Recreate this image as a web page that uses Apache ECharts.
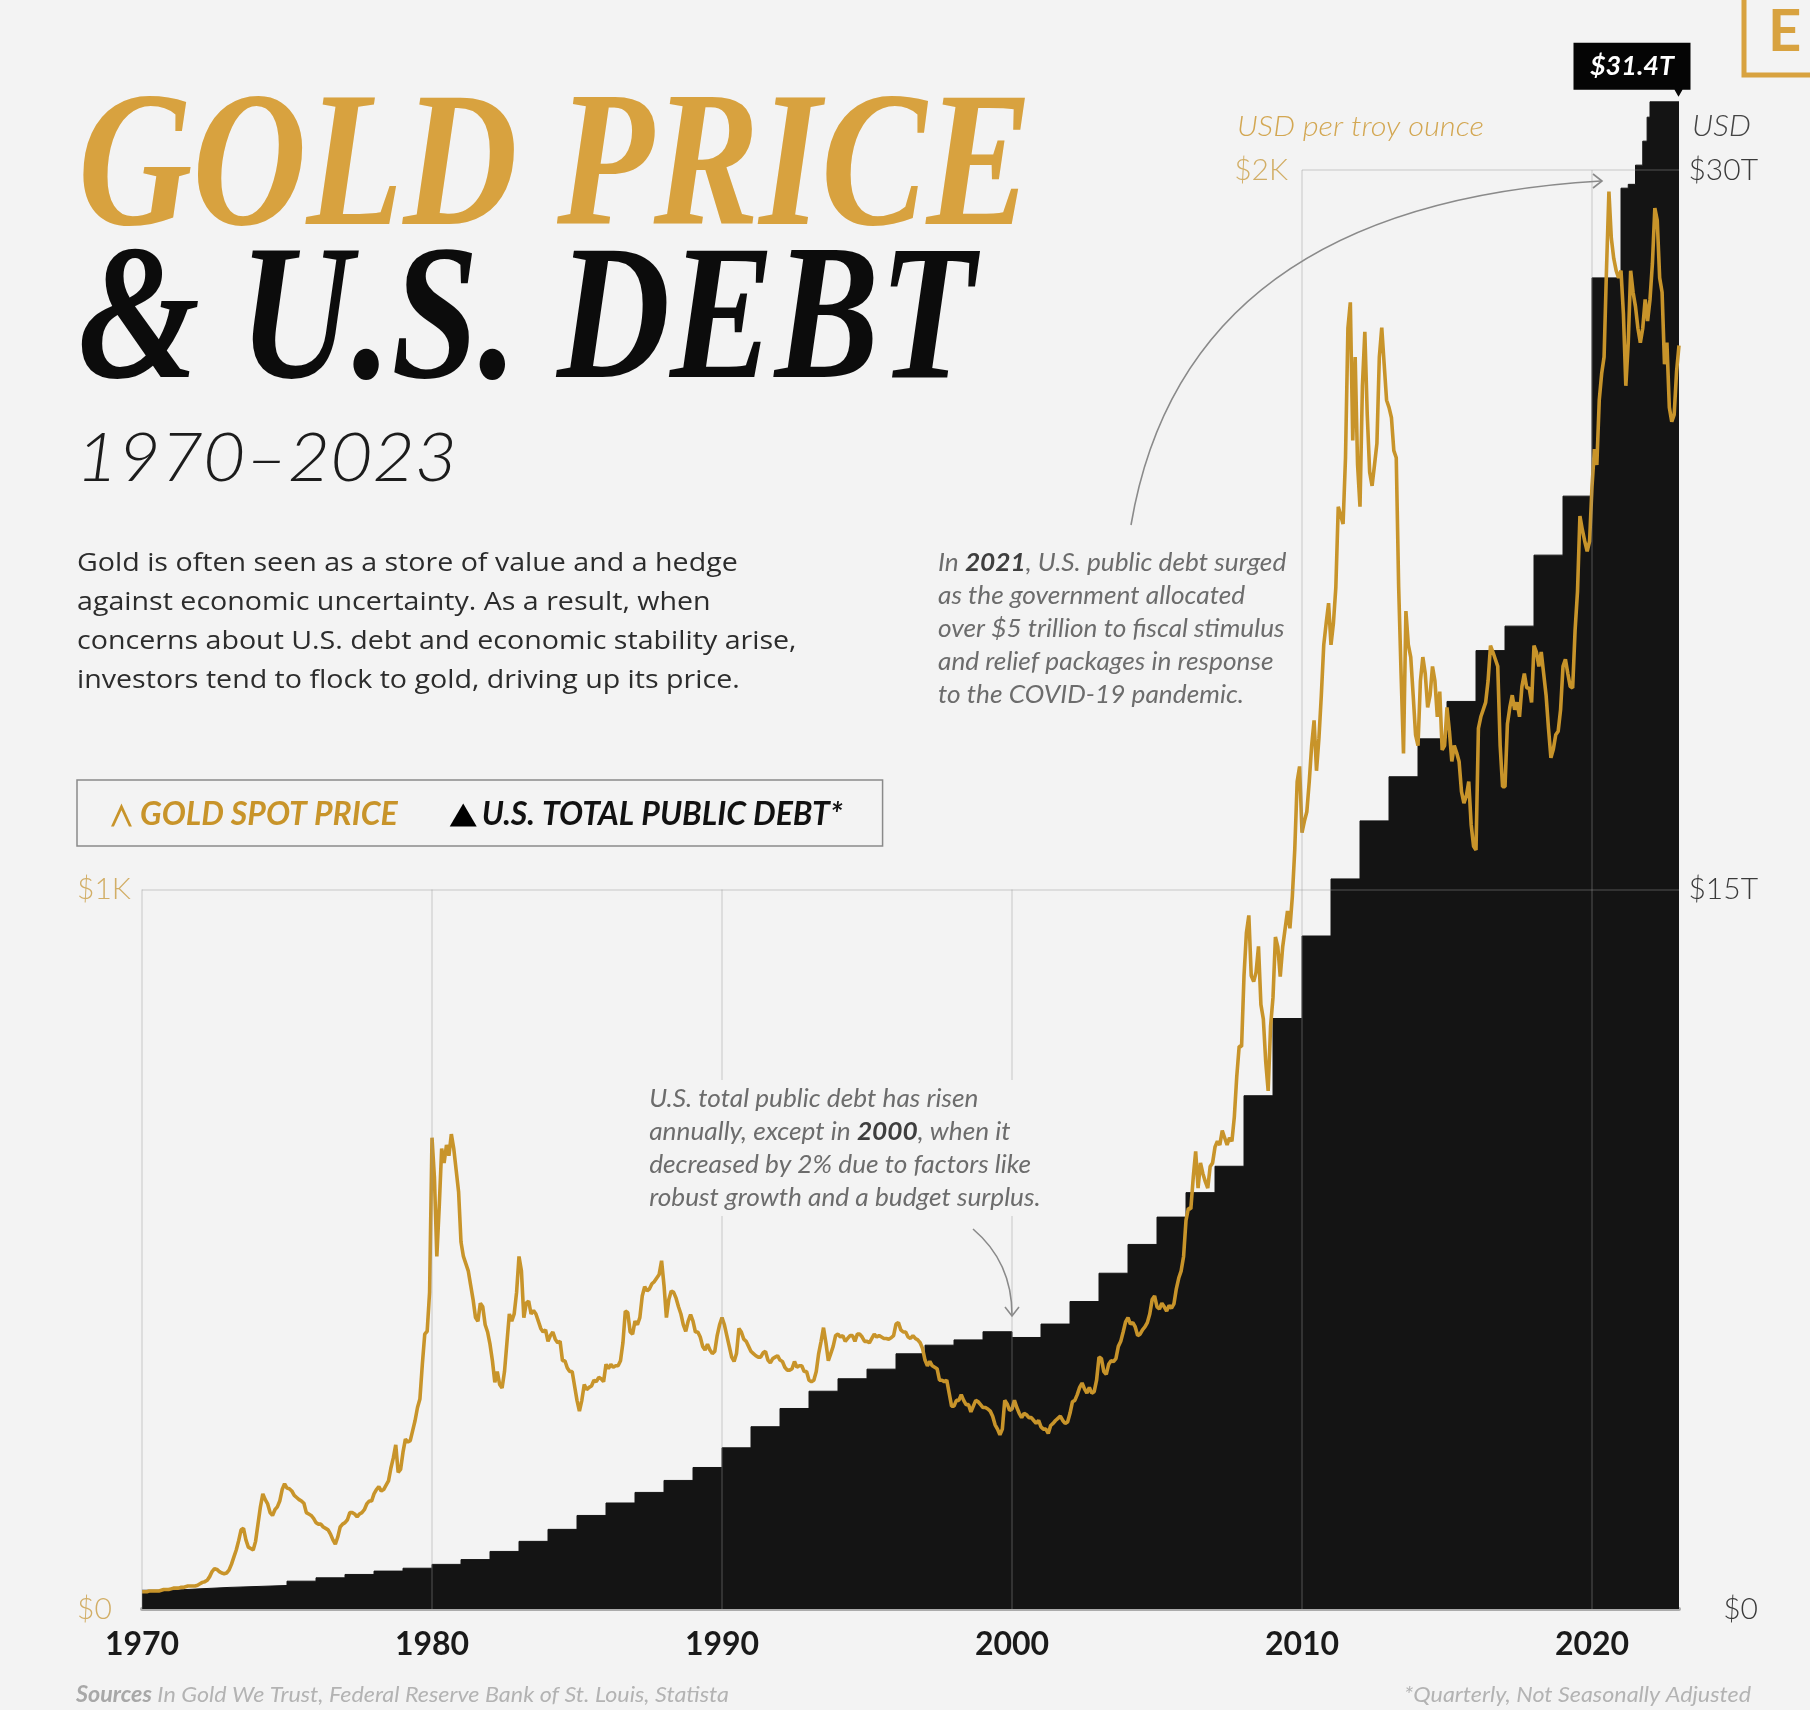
<!DOCTYPE html>
<html><head><meta charset="utf-8">
<script src="https://cdn.jsdelivr.net/npm/echarts/dist/echarts.min.js"></script>
<style>html,body{margin:0;padding:0;background:#f3f3f3;}#c{width:1810px;height:1710px;}</style>
</head><body><div id="c"></div>
<script>
// ---- DATA ----
const xTickYears = [1970, 1980, 1990, 2000, 2010, 2020];
const lowGridYears = [1970, 1980, 1990, 2000];
const highGridYears = [2010, 2020];
const goldTickLabels = {0: '$0', 1000: '$1K', 2000: '$2K'};
const debtTickLabels = {0: '$0', 15: '$15T', 30: '$30T'};

const debtYears = [1970,1971,1972,1973,1974,1975,1976,1977,1978,1979,
  1980,1981,1982,1983,1984,1985,1986,1987,1988,1989,
  1990,1991,1992,1993,1994,1995,1996,1997,1998,1999,
  2000,2001,2002,2003,2004,2005,2006,2007,2008,2009,
  2010,2011,2012,2013,2014,2015,2016,2017,2018,2019,
  2020,2021,2021.25,2021.5,2021.75,2021.9,2022,2023];
const debtTrillions = [0.39,0.42,0.45,0.47,0.49,0.58,0.65,0.72,0.79,0.85,
  0.93,1.03,1.20,1.41,1.66,1.95,2.21,2.43,2.68,2.95,
  3.36,3.80,4.18,4.54,4.80,5.00,5.32,5.50,5.61,5.78,
  5.66,5.94,6.41,7.00,7.60,8.17,8.68,9.23,10.70,12.31,
  14.03,15.22,16.43,17.35,18.14,18.92,19.98,20.49,21.97,23.20,
  27.75,29.62,29.70,30.10,30.60,31.10,31.42,31.42];

// monthly gold spot (USD/oz), starting Jan of the first year of each block
const gold1970s = [
  24,24,24,25,25,25,25,25,26,27,27,27,
  28,29,29,29,30,30,31,32,32,32,32,33,
  35,37,38,40,45,52,56,55,52,50,49,50,
  54,62,72,82,95,110,112,96,86,84,82,94,
  118,142,160,152,146,134,130,138,142,150,166,174,
  168,167,164,158,155,152,150,147,134,132,130,126,
  120,118,118,114,112,110,104,96,90,100,114,118,
  120,124,134,134,132,128,132,134,138,146,150,150,
  160,166,170,164,166,172,178,196,210,228,190,194,
  218,236,232,234,248,262,280,292,340,382,386,440];
const gold1980s = [
  655,600,490,560,640,620,645,630,660,640,610,580,
  510,490,480,470,450,430,405,400,425,420,395,385,
  368,345,315,330,312,307,330,370,410,400,410,440,
  490,470,405,425,428,410,415,410,400,390,385,388,
  372,380,385,375,370,372,345,345,335,330,330,310,
  290,275,290,312,305,308,310,318,316,322,320,316,
  340,334,340,336,338,338,345,370,414,412,385,382,
  400,395,405,435,448,442,445,452,455,460,465,484,
  450,405,430,442,440,432,420,410,395,386,400,409,
  400,385,385,378,365,360,368,360,355,358,380,395];
const gold1990s = [
  405,395,380,365,350,344,355,390,385,375,372,365,
  358,355,352,350,350,356,358,346,342,348,350,352,
  346,344,336,332,332,334,344,336,338,338,330,330,
  318,316,318,330,355,372,391,370,345,355,365,380,
  382,378,380,372,376,380,380,372,382,382,378,372,
  372,370,376,382,378,380,378,376,376,375,377,380,
  396,398,388,385,385,378,376,380,376,374,370,362,
  346,338,344,338,336,334,318,318,316,318,300,282,
  282,290,290,298,290,284,284,274,282,290,288,284,
  280,280,278,275,268,256,250,242,250,290,285,276];
const gold2000s = [
  278,290,280,272,266,272,270,266,266,262,258,262,
  253,250,250,244,255,258,262,265,268,262,258,260,
  272,288,290,298,308,314,306,300,308,300,302,318,
  350,348,330,326,340,345,344,348,365,372,385,399,
  405,396,398,392,380,382,388,392,398,410,430,435,
  420,417,425,420,414,422,418,424,445,460,470,490,
  540,557,556,600,636,585,620,605,594,585,615,620,
  642,650,645,665,655,645,655,650,684,740,782,782,
  880,940,964,880,872,885,921,840,820,760,720,810,
  850,934,920,879,920,945,970,946,990,1055,1150,1171];
const gold2010s = [
  1079,1095,1108,1150,1200,1235,1165,1210,1270,1340,1370,1398,
  1340,1370,1420,1532,1520,1508,1600,1780,1816,1624,1740,1590,
  1532,1700,1775,1660,1580,1561,1590,1620,1740,1781,1730,1680,
  1670,1656,1610,1600,1420,1300,1189,1387,1340,1323,1270,1215,
  1200,1290,1323,1300,1253,1270,1310,1290,1240,1275,1194,1200,
  1253,1220,1178,1200,1190,1178,1136,1120,1130,1150,1090,1060,
  1055,1224,1240,1250,1260,1290,1339,1330,1320,1310,1200,1143,
  1143,1230,1253,1270,1250,1260,1240,1282,1300,1280,1280,1260,
  1339,1330,1310,1330,1300,1270,1224,1183,1195,1215,1220,1250,
  1310,1320,1300,1282,1280,1360,1414,1519,1500,1484,1470,1484];
const gold2020s = [
  1560,1612,1590,1680,1717,1740,1862,1970,1905,1877,1860,1850,
  1860,1800,1700,1760,1860,1830,1810,1780,1760,1780,1820,1790,
  1820,1870,1947,1930,1850,1830,1730,1760,1670,1650,1660,1720,
  1756];
const goldStartYear = 1970;

// ---- BUILD ----
const GOLD = '#C8942A', TITLE_GOLD = '#D8A23F', LABEL_GOLD = '#D2AE66';
const goldAll = [].concat(gold1970s, gold1980s, gold1990s, gold2000s, gold2010s, gold2020s);
const goldData = goldAll.map((v, i) => [goldStartYear + i / 12, v]);
const debtData = debtYears.map((y, i) => [y, debtTrillions[i]]);
const lastDebt = debtData[debtData.length - 1];

const gridLineData = [
  [{coord: [xTickYears[0], 1000]}, {coord: [2023, 1000]}],
  [{coord: [highGridYears[0], 2000]}, {coord: [2023, 2000]}]
].concat(lowGridYears.map(y => [{coord: [y, 0]}, {coord: [y, 1000]}]))
 .concat(highGridYears.map(y => [{coord: [y, 0]}, {coord: [y, 2000]}]));

const chart = echarts.init(document.getElementById('c'), null, {renderer: 'canvas'});
const option = {
  backgroundColor: '#f3f3f3',
  animation: false,
  grid: {left: 142, right: 131, top: 98, bottom: 101, outerBoundsMode: 'none', containLabel: false},
  legend: {
    left: 77, top: 780, orient: 'horizontal', selectedMode: false,
    borderColor: '#8a8a8a', borderWidth: 1.5, borderRadius: 0,
    padding: [19, 40, 15, 34], itemWidth: 27, itemHeight: 23, itemGap: 52, itemTextGap: 15,
    textStyle: {fontFamily: 'Lato', fontSize: 32, fontStyle: 'italic', fontWeight: 'bold', lineHeight: 32},
    data: [
      {name: 'GOLD SPOT PRICE', icon: 'path://M0,22L10,0L20,22L17.2,22L10,6.5L2.8,22Z',
       itemStyle: {color: GOLD, borderWidth: 0}, textStyle: {color: GOLD}},
      {name: 'U.S. TOTAL PUBLIC DEBT*', icon: 'triangle',
       itemStyle: {color: '#000', borderWidth: 0}, textStyle: {color: '#111'}}
    ]
  },
  xAxis: {
    type: 'value', min: 1970, max: 2023, interval: 10, offset: 4,
    axisLine: {show: true, lineStyle: {color: '#ababab', width: 4}},
    axisTick: {show: false}, splitLine: {show: false},
    axisLabel: {margin: 16, fontFamily: 'Lato', fontWeight: 'bold', fontSize: 32, color: '#1a1a1a',
      formatter: v => xTickYears.indexOf(v) >= 0 ? String(v) : ''}
  },
  yAxis: [
    {type: 'value', position: 'left', min: 0, max: 2100, interval: 1000,
     axisLine: {show: false}, axisTick: {show: false}, splitLine: {show: false},
     axisLabel: {align: 'left', margin: 65, fontFamily: 'Lato', fontWeight: 300, fontSize: 30, color: LABEL_GOLD,
       formatter: v => (v === 2000 ? '' : (goldTickLabels[v] || ''))}},
    {type: 'value', position: 'right', min: 0, max: 31.5, interval: 15,
     axisLine: {show: false}, axisTick: {show: false}, splitLine: {show: false},
     axisLabel: {align: 'right', margin: 79, fontFamily: 'Lato', fontWeight: 300, fontSize: 30, color: '#3a3a3a',
       formatter: v => debtTickLabels[v] || ''}}
  ],
  series: [
    {name: 'U.S. TOTAL PUBLIC DEBT*', type: 'line', yAxisIndex: 1, step: 'end', z: 1,
     data: debtData, symbol: 'none', color: '#141414',
     lineStyle: {color: '#141414', width: 1}, areaStyle: {color: '#141414', opacity: 1},
     markPoint: {
       symbol: 'path://M0,0H117V47H109L105,54L101,47H0Z', symbolSize: [117, 54], symbolOffset: [-47, -32],
       itemStyle: {color: '#050505'},
       label: {show: true, position: 'inside', offset: [0, -4], color: '#fff', fontFamily: 'Lato',
         fontStyle: 'italic', fontWeight: 'bold', fontSize: 27,
         formatter: p => '$' + p.value.toFixed(1) + 'T'},
       data: [{coord: lastDebt, value: lastDebt[1]}]
     }},
    {name: 'grid', type: 'line', yAxisIndex: 0, z: 2, data: [], symbol: 'none', silent: true,
     markLine: {silent: true, symbol: ['none', 'none'], label: {show: false},
       lineStyle: {color: 'rgba(150,150,150,0.32)', width: 1.5, type: 'solid'},
       emphasis: {disabled: true}, data: gridLineData}},
    {name: 'GOLD SPOT PRICE', type: 'line', yAxisIndex: 0, z: 3, data: goldData, symbol: 'none',
     color: GOLD, lineStyle: {color: GOLD, width: 3.6}}
  ]
};
chart.setOption(option);

const p2k = chart.convertToPixel({xAxisIndex: 0, yAxisIndex: 0}, [highGridYears[0], 2000]);
const annoStyle = {fontFamily: 'Lato', fontStyle: 'italic', fontSize: 25, fill: '#6c6c6c', lineHeight: 33};
const boldRich = {b: {fontFamily: 'Lato', fontStyle: 'italic', fontWeight: 'bold', fontSize: 25, fill: '#3e3e3e', lineHeight: 33}};

chart.setOption({graphic: [
  {type: 'text', x: 78, y: 174, scaleX: 0.82, z: 10,
   style: {text: 'GOLD PRICE', fill: TITLE_GOLD, font: 'italic bold 193px "Liberation Serif", serif', verticalAlign: 'middle', textVerticalAlign: 'middle'}},
  {type: 'text', x: 78, y: 327, scaleX: 0.812, z: 10,
   style: {text: '& U.S. DEBT', fill: '#0c0c0c', font: 'italic bold 193px "Liberation Serif", serif', verticalAlign: 'middle', textVerticalAlign: 'middle'}},
  {type: 'text', x: 76, y: 459, scaleX: 1.09, z: 10,
   style: {text: '1970\u20132023', fill: '#1c1c1c', font: 'italic 300 67px Lato, sans-serif', verticalAlign: 'middle', textVerticalAlign: 'middle'}},
  {type: 'text', x: 77, y: 544, scaleX: 1.1, z: 10,
   style: {text: 'Gold is often seen as a store of value and a hedge\nagainst economic uncertainty. As a result, when\nconcerns about U.S. debt and economic stability arise,\ninvestors tend to flock to gold, driving up its price.',
     fill: '#2c2c2c', font: '26px "Open Sans", sans-serif', lineHeight: 39, verticalAlign: 'top', textVerticalAlign: 'top'}},
  {type: 'text', x: 1237, y: 127, scaleX: 1.1, z: 10,
   style: {text: 'USD per troy ounce', fill: '#D3A752', font: 'italic 300 28px Lato, sans-serif', verticalAlign: 'middle', textVerticalAlign: 'middle'}},
  {type: 'text', x: 1692, y: 127, scaleX: 1.08, z: 10,
   style: {text: 'USD', fill: '#444', font: 'italic 300 29px Lato, sans-serif', verticalAlign: 'middle', textVerticalAlign: 'middle'}},
  {type: 'text', x: p2k[0] - 14, y: p2k[1], z: 10,
   style: {text: goldTickLabels[2000], fill: LABEL_GOLD, font: '300 30px Lato, sans-serif', align: 'right', textAlign: 'right', verticalAlign: 'middle', textVerticalAlign: 'middle'}},
  {type: 'text', x: 938, y: 546, scaleX: 1.05, z: 10,
   style: Object.assign({text: 'In {b|2021}, U.S. public debt surged\nas the government allocated\nover $5 trillion to fiscal stimulus\nand relief packages in response\nto the COVID-19 pandemic.',
     rich: boldRich, verticalAlign: 'top', textVerticalAlign: 'top'}, annoStyle)},
  {type: 'text', x: 645, y: 1080, scaleX: 1.05, z: 10,
   style: Object.assign({text: 'U.S. total public debt has risen\nannually, except in {b|2000}, when it\ndecreased by 2% due to factors like\nrobust growth and a budget surplus.',
     rich: boldRich, verticalAlign: 'top', textVerticalAlign: 'top', backgroundColor: '#f3f3f3', padding: [2, 4]}, annoStyle)},
  {type: 'bezierCurve', z: 10, shape: {x1: 1131, y1: 525, x2: 1601, y2: 181, cpx1: 1185, cpy1: 205},
   style: {stroke: '#8a8a8a', lineWidth: 1.6, fill: null}},
  {type: 'polyline', z: 10, shape: {points: [[1593, 174], [1602, 181], [1593, 188]]},
   style: {stroke: '#8a8a8a', lineWidth: 1.6, fill: null}},
  {type: 'bezierCurve', z: 10, shape: {x1: 973, y1: 1229, x2: 1012, y2: 1315, cpx1: 1012, cpy1: 1262},
   style: {stroke: '#8a8a8a', lineWidth: 1.6, fill: null}},
  {type: 'polyline', z: 10, shape: {points: [[1005, 1307], [1012, 1316], [1019, 1307]]},
   style: {stroke: '#8a8a8a', lineWidth: 1.6, fill: null}},
  {type: 'text', x: 76, y: 1695, scaleX: 1.06, z: 10,
   style: {text: '{b|Sources} In Gold We Trust, Federal Reserve Bank of St. Louis, Statista', fill: '#b3b3b3',
     font: 'italic 22px Lato, sans-serif', rich: {b: {fontFamily: 'Lato', fontStyle: 'italic', fontWeight: 'bold', fontSize: 22, fill: '#a8a8a8'}},
     verticalAlign: 'middle', textVerticalAlign: 'middle'}},
  {type: 'text', x: 1751, y: 1695, scaleX: 1.06, z: 10,
   style: {text: '*Quarterly, Not Seasonally Adjusted', fill: '#b3b3b3', font: 'italic 22px Lato, sans-serif',
     align: 'right', textAlign: 'right', verticalAlign: 'middle', textVerticalAlign: 'middle'}},
  {type: 'polyline', z: 10, shape: {points: [[1744, 0], [1744, 75], [1812, 75]]},
   style: {stroke: TITLE_GOLD, lineWidth: 5, fill: null}},
  {type: 'text', x: 1768, y: 32, z: 10,
   style: {text: 'E', fill: TITLE_GOLD, font: 'bold 58px Lato, sans-serif', verticalAlign: 'middle', textVerticalAlign: 'middle'}}
]});
</script></body></html>
